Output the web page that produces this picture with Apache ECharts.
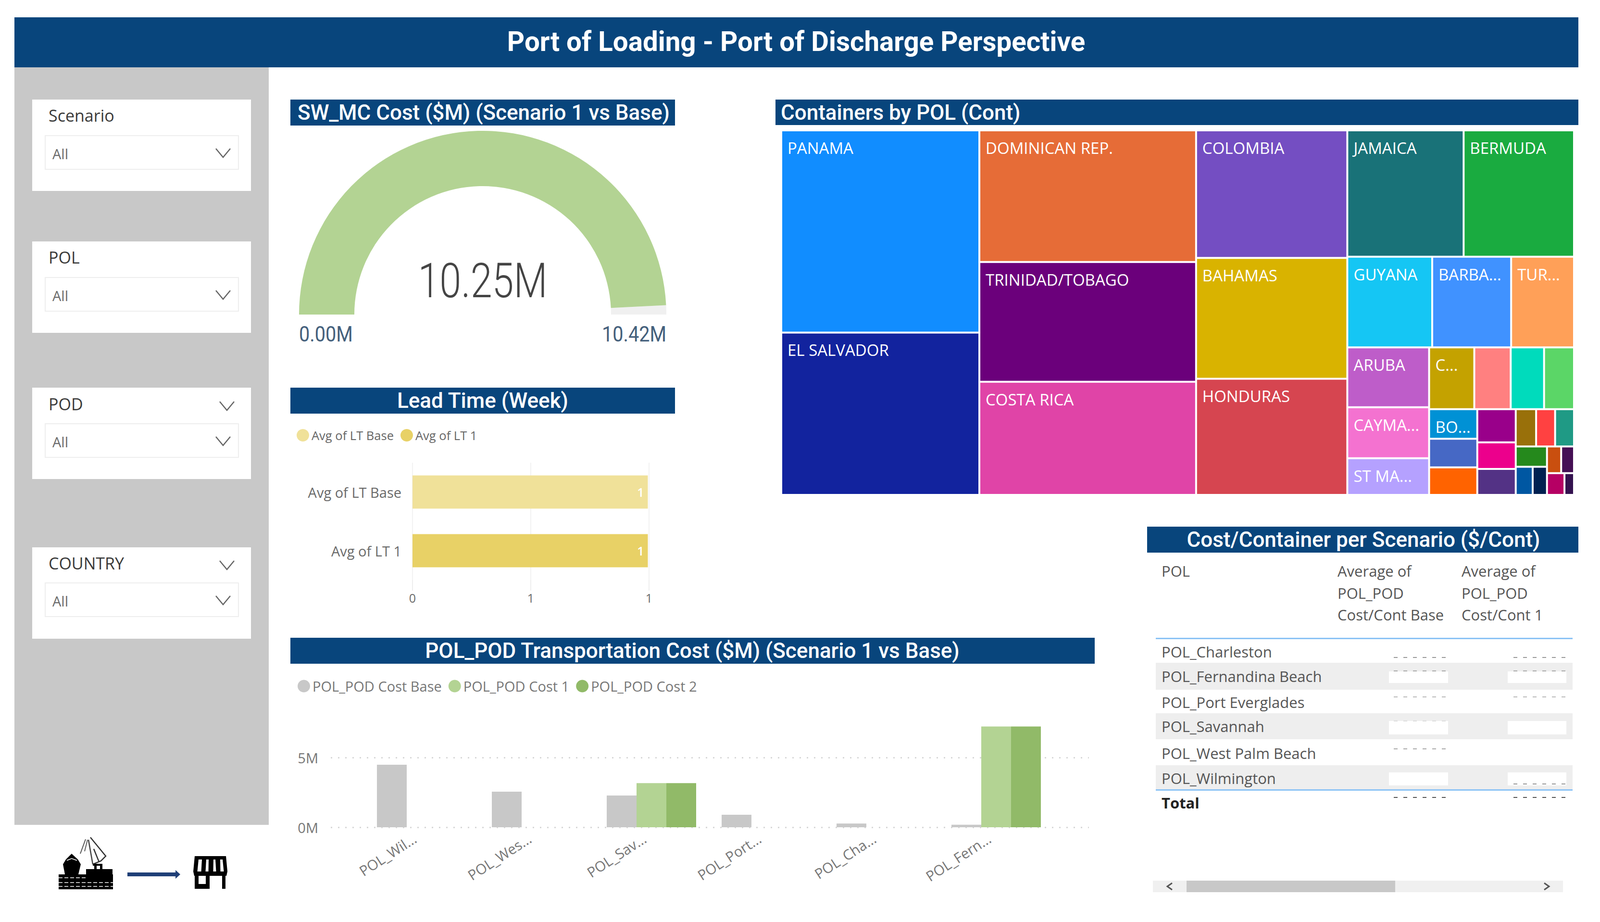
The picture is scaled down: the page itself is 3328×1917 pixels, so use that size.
<!DOCTYPE html>
<html><head><meta charset="utf-8">
<style>html,body{margin:0;padding:0;background:#fff}#c{width:3328px;height:1917px}</style>
<script src="https://cdn.jsdelivr.net/npm/echarts@6/dist/echarts.min.js"></script>
</head><body><div id="c"></div>
<script>
// ---------- data ----------
const pageTitle = 'Port of Loading - Port of Discharge Perspective';
const gaugeValue = 10.25;
const gaugeMax = 10.42;
const leadCategories = ['Avg of LT Base', 'Avg of LT 1'];
const leadBase = [0.995, null];
const leadOne = [null, 0.995];
const costCategories = ['POL_Wil...', 'POL_Wes...', 'POL_Sav...', 'POL_Port...', 'POL_Cha...', 'POL_Fern...'];
const costBase = [4.48, 2.55, 2.28, 0.9, 0.27, 0.18];
const cost1 = [0, 0, 3.16, 0, 0, 7.22];
const cost2 = [0, 0, 3.16, 0, 0, 7.22];
const treeNames = ['PANAMA','EL SALVADOR','DOMINICAN REP.','TRINIDAD/TOBAGO','COSTA RICA','COLOMBIA','BAHAMAS','HONDURAS','JAMAICA','BERMUDA','GUYANA','BARBA...','TUR...','ARUBA','CAYMA...','ST MA...','C...','','','','BO...','','','','','','','','','','','','','','',''];
const treeValues = [172400,138400,122800,111700,105500,83000,78650,75600,63240,60030,33150,30830,24560,21060,17960,12900,12010,9680,8870,7970,6130,5920,5715,5490,4400,4290,3260,3040,3030,2740,2050,1730,1630,1480,1640,900];
const treeColors = ['#118DFF','#12239E','#E66C37','#6B007B','#E044A7','#744EC2','#D9B300','#D64550','#197278','#1AAB40','#15C6F4','#4092FF','#FFA058','#BE5DC9','#F472D0','#B5A1FF','#C4A200','#FF8080','#00DBBC','#5BD667','#0091D5','#4668C5','#FF6300','#99008A','#EC008C','#533285','#99700A','#FF4141','#1F9A85','#25891C','#0057A2','#002050','#C94F0F','#450F54','#B60064','#34124F'];
// nesting of the treemap, by index into the lists above
const treeNesting = [[0,1],[2,3,4],[5,6,7],[[8,9],[10,11,12],[[13,14,15],[[16,17,18,19],[[20,21,22],[[23,24,25],[[26,27,28],[[29,30,31],[[32,33],[34,35]]]]]]]]]];
const tableRows = ['POL_Charleston','POL_Fernandina Beach','POL_Port Everglades','POL_Savannah','POL_West Palm Beach','POL_Wilmington'];
const tableCols = [['Average of','POL_POD','Cost/Cont Base'],['Average of','POL_POD','Cost/Cont 1']];
const slicerNames = ['Scenario','POL','POD','COUNTRY'];

// ---------- helpers ----------
const NAVY = '#08457C', TXT = 'Open Sans', HEAD = 'Roboto';
const E = [];
const rect = (x,y,w,h,fill,stroke,lw) => E.push({type:'rect',silent:true,shape:{x,y,width:w,height:h},style:{fill,stroke:stroke||null,lineWidth:lw||0}});
const txt = (s,x,y,size,fill,align,weight,family,sx) => E.push({type:'text',silent:true,x,y,scaleX:sx||1,style:{text:s,fontSize:size,fill,align:align||'left',verticalAlign:'middle',fontWeight:weight||'normal',fontFamily:family||TXT}});
const poly = (pts,stroke,lw,fill) => E.push({type:fill?'polygon':'polyline',silent:true,shape:{points:pts},style:fill?{fill}:{stroke,lineWidth:lw,fill:null}});
const chev = (cx,cy,col) => poly([[cx-15,cy-9],[cx,cy+9],[cx+15,cy-9]],col||'#666',2.5);
const dash = (x1,x2,y,col) => E.push({type:'line',silent:true,shape:{x1,y1:y,x2,y2:y},style:{stroke:col,lineWidth:2,lineDash:[8,12]}});

// page banner + sidebar
rect(30,36,3253,104,NAVY);
txt(pageTitle,1656,87,56.5,'#fff','center',700,HEAD);
rect(30,140,529,1575,'#C8C8C8');

// slicers
const cardTop = [207,502,806,1138];
const boxTop = [282,577,881,1212];
const titleY = [240,535,840,1171];
slicerNames.forEach((n,i)=>{
  rect(67,cardTop[i],455,190,'#fff');
  txt(n,101,titleY[i],34,'#3a3a3a');
  rect(94,boxTop[i],402,70,'#fff','#EEEEEE',2);
  txt('All',109,boxTop[i]+37,29,'#6a6a6a');
  chev(464,boxTop[i]+36);
  if(i>=2) chev(472,titleY[i]+4);
});

// section headers
const heading = (s,x,y,w,h,tx,align) => { rect(x,y,w,h,NAVY); txt(s,tx,y+h/2,44,'#fff',align,500,HEAD); };
heading('SW_MC Cost ($M) (Scenario 1 vs Base)',604,207,800,54,619,'left');
heading('Containers by POL (Cont)',1613,207,1670,53,1624,'left');
heading('Lead Time (Week)',604,806,800,54,1004,'center');
heading('POL_POD Transportation Cost ($M) (Scenario 1 vs Base)',604,1326,1673,54,1440,'center');
heading('Cost/Container per Scenario ($/Cont)',2386,1095,897,54,2836,'center');

// gauge centre value and end labels
txt(gaugeValue.toFixed(2)+'M',1004,584,100,'#444','center',300,HEAD,0.81);
txt('0.00M',622,695,44,'#44607C','left','normal',HEAD,0.9);
txt(gaugeMax.toFixed(2)+'M',1386,695,44,'#44607C','right','normal',HEAD,0.9);

// table
txt('POL',2416,1187,31,'#555');
tableCols.forEach((c,i)=>c.forEach((t,j)=>txt(t,[2782,3040][i],[1187,1233,1278][j],31,'#555')));
const bandTop = [1378,1483,1591], bandH = [56,54,50];
bandTop.forEach((y,i)=>rect(2404,y,867,bandH[i],'#EEEEEE'));
rect(2404,1326,867,3,'#8CC3F5');
rect(2404,1641,867,3,'#8CC3F5');
const rowY = [1355,1406,1460,1510,1566,1618];
tableRows.forEach((r,i)=>txt(r,2416,rowY[i],31,'#555'));
txt('Total',2416,1669,31,'#222','left',700);
[[1396,24],[1499,28],[1606,27]].forEach(([y,h])=>{rect(2889,y,123,h,'#fff');rect(3136,y,122,h,'#fff');});
[[1367,'#999'],[1395,'#aaa'],[1449,'#bbb'],[1499,'#ddd'],[1557,'#aaa']].forEach(([y,c])=>dash(2899,3012,y,c));
[[1367,'#999'],[1395,'#aaa'],[1449,'#bbb'],[1630,'#999']].forEach(([y,c])=>dash(3148,3262,y,c));
dash(2899,3012,1658,'#555');dash(3148,3262,1658,'#555');
rect(2398,1831,853,24,'#F0F0F0');
rect(2468,1831,434,24,'#C8C8C8');
poly([[2438,1836],[2428,1843],[2438,1850]],'#555',3);
poly([[3212,1836],[3222,1843],[3212,1850]],'#555',3);

// bottom-left icons: ship and crane
poly([[149,1775],[162,1787],[168,1797],[163,1818],[135,1818],[131,1797],[137,1787]],null,0,'#000');
poly([[139,1789],[149,1785],[160,1789]],'#fff',1.5);
rect(122,1818,113,31,'#000');
rect(179,1807,55,23,'#000');
[1825,1835,1843].forEach((y,k)=>E.push({type:'line',silent:true,shape:{x1:122,y1:y,x2:k===0?179:235,y2:y},style:{stroke:'#fff',lineWidth:1.6,lineDash:[8,4]}}));
poly([[188,1741],[220,1780],[210,1790],[193,1797]],'#333',2.5);
poly([[184,1746],[193,1797]],'#444',2.5);
poly([[178,1745],[167,1775]],'#555',2);
poly([[182,1746],[176,1770]],'#666',2);
poly([[195,1765],[206,1792]],'#333',2.5);
rect(193,1796,20,4,'#000');rect(196,1800,5,8,'#000');rect(208,1800,5,8,'#000');
// arrow
rect(265,1814,100,8,'#1F3F77');poly([[365,1809],[375,1818],[365,1827]],null,0,'#1F3F77');
// store
poly([[405,1780],[470,1780],[473,1812],[471,1821],[404,1821],[402,1812]],null,0,'#000');
[[412,420],[428,434],[443,449],[457,464]].forEach(([a,b],k)=>poly([[a+1,1787],[b-(k>1?1:0),1787],[b+(k-1.5),1812],[a+(k-1.5),1812]],null,0,'#fff'));
rect(405,1821,8,27,'#000');rect(428,1821,8,27,'#000');rect(405,1838,30,10,'#000');rect(462,1821,7,27,'#000');

// ---------- chart ----------
const axisText = {color:'#6a6a6a',fontFamily:TXT};
const treeNode = n => Array.isArray(n)
  ? {name:'',children:n.map(treeNode)}
  : {name:treeNames[n],value:treeValues[n],itemStyle:{color:treeColors[n]}};
const ltLabel = {show:true,position:'insideRight',distance:8,color:'#fff',fontSize:25,fontWeight:600,fontFamily:TXT,formatter:p=>String(Math.round(p.value))};
const option = {
  animation:false,
  backgroundColor:'#fff',
  graphic:{elements:E},
  legend:[
    {left:617,top:892,icon:'circle',itemWidth:26,itemHeight:26,itemGap:14,padding:0,data:['Avg of LT Base','Avg of LT 1'],textStyle:{fontSize:25.5,color:'#666',fontFamily:TXT}},
    {left:619,top:1412,icon:'circle',itemWidth:26,itemHeight:26,itemGap:14,padding:0,data:['POL_POD Cost Base','POL_POD Cost 1','POL_POD Cost 2'],textStyle:{fontSize:29,color:'#777',fontFamily:TXT}}
  ],
  grid:[
    {left:858,width:492,top:962,height:244},
    {left:688,width:1577,top:1502.5,height:217.5},
    {left:757.5,width:1434,top:1502.5,height:217.5}
  ],
  xAxis:[
    {gridIndex:0,type:'value',min:0,max:1,interval:0.5,axisLine:{show:false},
     axisTick:{show:true,length:22,lineStyle:{color:'#EEEEEE',width:2}},splitLine:{show:true,lineStyle:{color:'#F2F2F2',width:2}},
     axisLabel:{...axisText,fontSize:25,margin:24,formatter:v=>String(Math.round(v))}},
    {gridIndex:1,type:'value',min:0,max:1,show:false},
    {gridIndex:2,type:'category',data:costCategories,axisLine:{show:false},axisTick:{show:false},
     axisLabel:{color:'#777',fontFamily:TXT,fontSize:29.5,rotate:33,margin:11,padding:[0,17,0,0],interval:0}}
  ],
  yAxis:[
    {gridIndex:0,type:'category',inverse:true,data:leadCategories,axisLine:{show:false},axisTick:{show:false},
     axisLabel:{...axisText,fontSize:29,margin:23}},
    {gridIndex:1,type:'value',min:0,max:7.5,interval:5,axisLine:{show:false},axisTick:{show:false},
     axisLabel:{color:'#777',fontFamily:TXT,fontSize:29,margin:26,showMaxLabel:false,padding:[0,0,10,0],formatter:v=>v+'M'},
     splitLine:{show:true,showMaxLine:false,lineStyle:{color:'#D8D8D8',width:3,type:[3,12]}}},
    {gridIndex:2,type:'value',min:0,max:7.5,show:false,splitLine:{show:false}}
  ],
  series:[
    {type:'gauge',center:[1004,654],radius:382,startAngle:180,endAngle:0,min:0,max:gaugeMax,
     axisLine:{lineStyle:{width:115,color:[[gaugeValue/gaugeMax,'#B3D393'],[1,'#F0F0F0']]}},
     pointer:{show:false},axisTick:{show:false},splitLine:{show:false},axisLabel:{show:false},title:{show:false},detail:{show:false},
     data:[{value:gaugeValue}]},
    {type:'treemap',left:1627,top:273,width:1645,height:754,roam:false,nodeClick:false,breadcrumb:{show:false},sort:false,
     itemStyle:{gapWidth:4,borderWidth:0},squareRatio:1,visibleMin:1,
     levels:[{itemStyle:{gapWidth:4,borderWidth:0}}],
     label:{show:true,position:'insideTopLeft',distance:0,padding:[18,0,0,11],color:'#fff',fontSize:33,fontFamily:TXT,overflow:'none'},
     upperLabel:{show:false},data:treeNesting.map(treeNode)},
    {name:'Avg of LT Base',type:'bar',xAxisIndex:0,yAxisIndex:0,stack:'lt',barWidth:69,data:leadBase,itemStyle:{color:'#F0E199'},label:ltLabel},
    {name:'Avg of LT 1',type:'bar',xAxisIndex:0,yAxisIndex:0,stack:'lt',barWidth:69,data:leadOne,itemStyle:{color:'#E8D166'},label:ltLabel},
    {name:'POL_POD Cost Base',type:'bar',xAxisIndex:2,yAxisIndex:2,barWidth:62,barGap:0,data:costBase,itemStyle:{color:'#C8C8C8'}},
    {name:'POL_POD Cost 1',type:'bar',xAxisIndex:2,yAxisIndex:2,barWidth:62,barGap:0,data:cost1,itemStyle:{color:'#B3D393'}},
    {name:'POL_POD Cost 2',type:'bar',xAxisIndex:2,yAxisIndex:2,barWidth:62,barGap:0,data:cost2,itemStyle:{color:'#91BA68'}}
  ]
};
const chart = echarts.init(document.getElementById('c'),null,{renderer:'svg',width:3328,height:1917});
chart.setOption(option);
</script></body></html>
